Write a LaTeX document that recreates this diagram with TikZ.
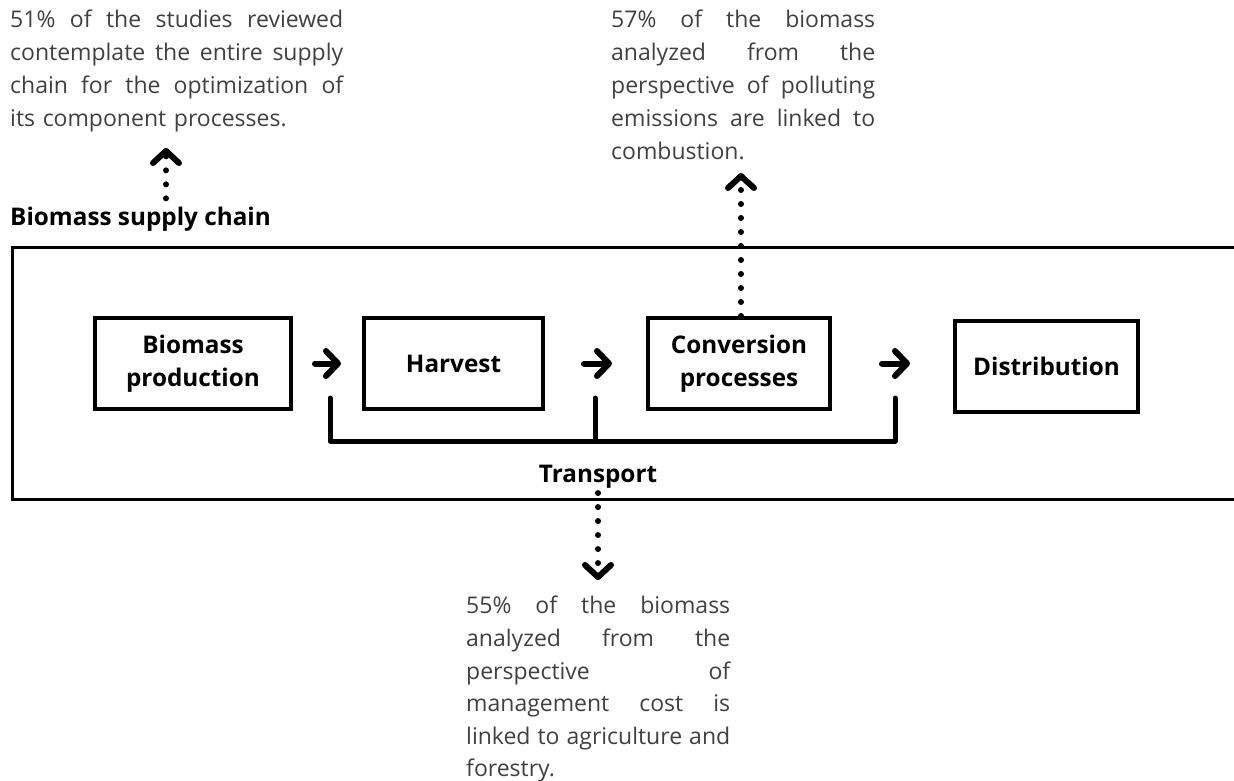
\documentclass[tikz,border=0pt]{standalone}
\usepackage{fontspec}
\setmainfont{Open Sans}
\usetikzlibrary{positioning,arrows.meta}
\newcommand{\jline}[1]{\makebox[\hsize][s]{\spaceskip=0pt\xspaceskip=0pt\relax #1}\\}

\begin{document}
\begin{tikzpicture}[x=1pt,y=-1pt,
stagebox/.style={rectangle, draw, line width=4pt, minimum height=91pt, inner sep=0pt, align=center, font=\bfseries\fontsize{24.3}{33}\selectfont},
notetext/.style={inner sep=0pt, anchor=north west, align=left, text=black!75, font=\fontsize{23}{33}\selectfont},
flowarrow/.style={line width=6pt, line cap=round, -{Straight Barb[length=12pt,width=25pt,line cap=round,line join=round]}},
dotarrow/.style={line width=6pt, line cap=round, dash pattern=on 0pt off 14pt, -{Straight Barb[length=12pt,width=26pt,line cap=round,line join=round,line width=6pt]}},
bracket/.style={line width=5pt, line cap=round, line join=round},
]
\useasboundingbox (0,0) rectangle (1234,780);

%Nodes
\node[stagebox, minimum width=196pt] (prod) at (193,363.5) {Biomass\\production};
\node[stagebox, minimum width=179pt] (harv) at (453.5,363.5) {Harvest};
\node[stagebox, minimum width=182pt] (conv) at (739,363.5) {Conversion\\processes};
\node[stagebox, minimum width=183pt] (dist) at (1046.5,366) {Distribution};

\node[anchor=base west, inner sep=0pt, font=\bfseries\fontsize{24.3}{33}\selectfont] (chain) at (10,225) {Biomass supply chain};
\node[anchor=base, inner sep=0pt, font=\bfseries\fontsize{24.3}{33}\selectfont] (trans) at (598,482) {Transport};

\node[notetext, text width=333pt] (note1) at (10,10) {\jline{51\% of the studies reviewed}\jline{contemplate the entire supply}\jline{chain for the optimization of}its component processes.};
\node[notetext, text width=264pt] (note2) at (611,10) {\jline{57\% of the biomass}\jline{analyzed from the}\jline{perspective of polluting}\jline{emissions are linked to}combustion.};
\node[notetext, text width=264pt, font=\fontsize{23}{32.6}\selectfont] (note3) at (466,596) {\jline{55\% of the biomass}\jline{analyzed from the}\jline{perspective of}\jline{management cost is}\jline{linked to agriculture and}forestry.};

\coordinate (up1) at (166,148);
\coordinate (up2) at (741,173);
\coordinate (down3) at (598,580);

%Lines
\draw[line width=3pt] (1234,247) -- (12,247) -- (12,499) -- (1234,499);

\draw[flowarrow, shorten <=22pt, shorten >=21pt] (prod.east) -- (harv.west);
\draw[flowarrow, shorten <=39pt, shorten >=34pt] (harv.east) -- (conv.west);
\draw[flowarrow, shorten <=50pt, shorten >=43pt] (conv.east) -- (conv.east -| dist.west);

\draw[bracket] (330,398) -- (330,441) -- (895,441) -- (895,398);
\draw[bracket] (595,398) -- (595,441);

\draw[dotarrow, shorten <=8pt] (chain.north -| up1) -- (up1);
\draw[dotarrow] (conv.north -| up2) -- (up2);
\draw[dotarrow, shorten <=5pt] (trans.south -| down3) -- (down3);
\end{tikzpicture}
\end{document}
